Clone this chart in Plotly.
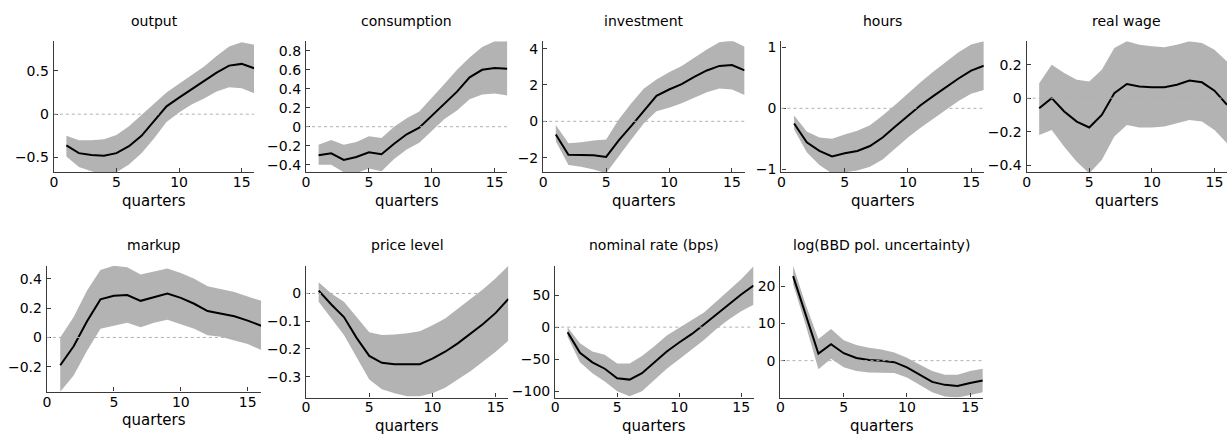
import plotly.graph_objects as go

W, H = 1227, 435
BAND = "#b3b3b3"
AXIS = "#3a3a3a"
FONT = "DejaVu Sans, Liberation Sans, sans-serif"

quarters = list(range(1, 17))

titles = ["output", "consumption", "investment", "hours", "real wage",
          "markup", "price level", "nominal rate (bps)", "log(BBD pol. uncertainty)"]

# median responses and error bands
output_mid = [-0.36, -0.45, -0.47, -0.48, -0.45, -0.37, -0.25, -0.08, 0.09, 0.19, 0.29, 0.38, 0.48, 0.56, 0.58, 0.53]
output_lo = [-0.49, -0.61, -0.66, -0.70, -0.67, -0.58, -0.45, -0.28, -0.09, 0.02, 0.11, 0.18, 0.26, 0.31, 0.30, 0.24]
output_hi = [-0.25, -0.30, -0.30, -0.29, -0.24, -0.14, -0.01, 0.12, 0.25, 0.35, 0.45, 0.55, 0.67, 0.78, 0.83, 0.80]

cons_mid = [-0.30, -0.28, -0.35, -0.32, -0.27, -0.29, -0.18, -0.08, -0.01, 0.12, 0.25, 0.37, 0.52, 0.60, 0.62, 0.61]
cons_lo = [-0.40, -0.40, -0.48, -0.49, -0.44, -0.47, -0.34, -0.24, -0.17, -0.04, 0.08, 0.17, 0.29, 0.34, 0.35, 0.33]
cons_hi = [-0.19, -0.14, -0.19, -0.16, -0.10, -0.12, 0.00, 0.09, 0.16, 0.30, 0.45, 0.60, 0.73, 0.84, 0.90, 0.90]

inv_mid = [-0.72, -1.84, -1.85, -1.87, -1.96, -1.05, -0.25, 0.60, 1.40, 1.75, 2.05, 2.45, 2.80, 3.05, 3.10, 2.80]
inv_lo = [-1.10, -2.40, -2.50, -2.65, -2.85, -1.90, -1.00, -0.10, 0.55, 0.75, 1.00, 1.30, 1.60, 1.80, 1.75, 1.45]
inv_hi = [-0.20, -1.20, -1.15, -1.05, -1.00, 0.10, 1.00, 1.80, 2.30, 2.70, 3.05, 3.50, 3.95, 4.35, 4.45, 4.10]

hours_mid = [-0.25, -0.56, -0.70, -0.79, -0.74, -0.70, -0.62, -0.48, -0.30, -0.12, 0.05, 0.20, 0.35, 0.49, 0.62, 0.70]
hours_lo = [-0.35, -0.72, -0.93, -1.07, -1.05, -1.02, -0.96, -0.84, -0.66, -0.48, -0.32, -0.17, -0.02, 0.12, 0.24, 0.30]
hours_hi = [-0.12, -0.38, -0.48, -0.50, -0.43, -0.37, -0.28, -0.12, 0.06, 0.25, 0.43, 0.60, 0.76, 0.92, 1.05, 1.10]

wage_mid = [-0.06, 0.00, -0.08, -0.14, -0.175, -0.10, 0.03, 0.085, 0.07, 0.065, 0.065, 0.08, 0.105, 0.095, 0.045, -0.04]
wage_lo = [-0.22, -0.19, -0.29, -0.38, -0.45, -0.37, -0.23, -0.16, -0.175, -0.175, -0.17, -0.15, -0.13, -0.14, -0.19, -0.27]
wage_hi = [0.09, 0.20, 0.15, 0.11, 0.10, 0.17, 0.30, 0.34, 0.32, 0.31, 0.305, 0.32, 0.34, 0.33, 0.29, 0.22]

markup_mid = [-0.19, -0.06, 0.11, 0.26, 0.285, 0.29, 0.25, 0.275, 0.30, 0.27, 0.23, 0.18, 0.165, 0.145, 0.115, 0.08]
markup_lo = [-0.37, -0.26, -0.09, 0.06, 0.08, 0.10, 0.07, 0.10, 0.12, 0.09, 0.06, 0.015, 0.005, -0.02, -0.045, -0.085]
markup_hi = [0.00, 0.14, 0.32, 0.46, 0.49, 0.48, 0.43, 0.45, 0.47, 0.44, 0.40, 0.35, 0.33, 0.31, 0.28, 0.25]

price_mid = [0.01, -0.04, -0.085, -0.16, -0.225, -0.25, -0.255, -0.256, -0.255, -0.235, -0.21, -0.18, -0.145, -0.11, -0.07, -0.02]
price_lo = [-0.03, -0.09, -0.15, -0.23, -0.31, -0.345, -0.36, -0.37, -0.37, -0.36, -0.34, -0.31, -0.28, -0.245, -0.21, -0.17]
price_hi = [0.04, 0.00, -0.03, -0.085, -0.14, -0.15, -0.148, -0.143, -0.136, -0.115, -0.09, -0.055, -0.02, 0.015, 0.055, 0.10]

rate_mid = [-8, -40, -55, -65, -80, -82, -72, -55, -38, -24, -11, 4, 20, 36, 51, 65]
rate_lo = [-15, -55, -72, -85, -100, -108, -100, -83, -65, -50, -35, -20, -3, 12, 25, 35]
rate_hi = [0, -25, -38, -43, -57, -57, -45, -30, -13, -1, 10, 23, 40, 58, 75, 95]

bbd_mid = [22.7, 12.0, 1.9, 4.4, 2.0, 0.7, 0.2, 0.0, -0.4, -1.8, -3.8, -5.7, -6.5, -6.8, -6.0, -5.3]
bbd_lo = [20.5, 9.5, -2.3, 0.5, -1.8, -2.8, -3.2, -3.2, -3.3, -4.5, -6.5, -8.5, -9.6, -9.9, -9.2, -8.5]
bbd_hi = [25.5, 15.0, 5.8, 8.5, 5.5, 4.2, 3.5, 3.0, 2.2, 0.8, -1.0, -2.8, -3.8, -3.8, -2.8, -2.2]

mids = [output_mid, cons_mid, inv_mid, hours_mid, wage_mid, markup_mid, price_mid, rate_mid, bbd_mid]
los = [output_lo, cons_lo, inv_lo, hours_lo, wage_lo, markup_lo, price_lo, rate_lo, bbd_lo]
his = [output_hi, cons_hi, inv_hi, hours_hi, wage_hi, markup_hi, price_hi, rate_hi, bbd_hi]

x_ticks = [0, 5, 10, 15]
y_ticks = [
    [-0.5, 0, 0.5],
    [-0.4, -0.2, 0, 0.2, 0.4, 0.6, 0.8],
    [-2, 0, 2, 4],
    [-1, 0, 1],
    [-0.4, -0.2, 0, 0.2],
    [-0.2, 0, 0.2, 0.4],
    [-0.3, -0.2, -0.1, 0],
    [-100, -50, 0, 50],
    [0, 10, 20],
]
y_ranges = [
    [-0.67, 0.84], [-0.48, 0.90], [-2.8, 4.4], [-1.05, 1.1], [-0.443, 0.34],
    [-0.37, 0.49], [-0.375, 0.10], [-110, 96], [-9.9, 25.5],
]

# panel boxes in pixels: left, right, top, bottom
boxes = [
    (50, 251, 40, 173), (303, 505, 40, 173), (541, 743, 40, 173),
    (780, 983, 40, 173), (1026, 1227, 40, 173),
    (43, 258, 268, 396), (303, 506, 268, 402), (553, 752, 268, 402),
    (779, 982, 268, 402),
]

fig = go.Figure()
layout = dict(
    width=W, height=H,
    margin=dict(l=0, r=0, t=0, b=0),
    paper_bgcolor="white", plot_bgcolor="white",
    showlegend=False,
    font=dict(family=FONT, size=14, color="black"),
)
annotations = []
shapes = []

for i in range(9):
    k = "" if i == 0 else str(i + 1)
    xr, yr = "x" + k, "y" + k
    l, r, t, b = boxes[i]

    fig.add_trace(go.Scatter(x=quarters, y=los[i], mode="lines", line=dict(width=0),
                             xaxis=xr, yaxis=yr, hoverinfo="skip"))
    fig.add_trace(go.Scatter(x=quarters, y=his[i], mode="lines", line=dict(width=0),
                             fill="tonexty", fillcolor=BAND,
                             xaxis=xr, yaxis=yr, hoverinfo="skip"))
    fig.add_trace(go.Scatter(x=quarters, y=mids[i], mode="lines",
                             line=dict(color="black", width=2),
                             xaxis=xr, yaxis=yr))

    axis_common = dict(
        showline=True, linecolor=AXIS, linewidth=1.3,
        ticks="inside", ticklen=4, tickcolor=AXIS,
        showgrid=False, zeroline=False, fixedrange=True,
        tickfont=dict(family=FONT, size=14, color="black"),
    )
    layout["xaxis" + k] = dict(
        axis_common, domain=[l / W, r / W], range=[0, 16],
        tickvals=x_ticks, anchor=yr, ticklabelstandoff=-3,
    )
    layout["yaxis" + k] = dict(
        axis_common, domain=[1 - b / H, 1 - t / H], range=y_ranges[i],
        tickvals=y_ticks[i], ticktext=[f"{v:g}".replace("-", "\u2212") for v in y_ticks[i]],
        anchor=xr, ticklabelstandoff=1,
    )

    shapes.append(dict(type="line", xref=xr + " domain", yref=yr,
                       x0=0, x1=1, y0=0, y1=0, layer="above",
                       line=dict(color="#b0b0b0", width=1, dash="dot")))

    annotations.append(dict(text=titles[i], xref=xr + " domain", yref="paper",
                            x=0.5, y=1 - (t - 11) / H, yanchor="bottom",
                            showarrow=False, font=dict(family=FONT, size=14, color="black")))
    annotations.append(dict(text="quarters", xref=xr + " domain", yref="paper",
                            x=0.5, y=1 - (b + 18) / H, yanchor="top",
                            showarrow=False, font=dict(family=FONT, size=15, color="black")))

layout["annotations"] = annotations
layout["shapes"] = shapes
fig.update_layout(**layout)

fig.write_html("out.html", config={"displayModeBar": False},
               post_script="document.body.style.margin='0';")
